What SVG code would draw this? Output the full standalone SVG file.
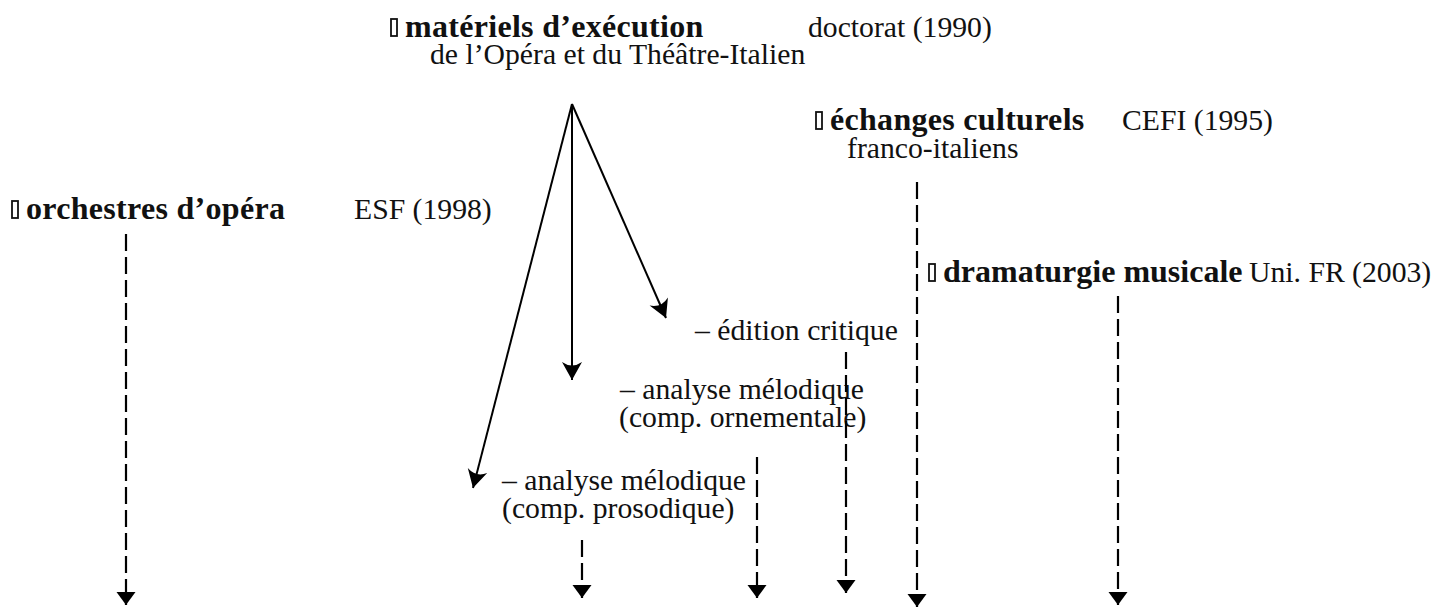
<svg xmlns="http://www.w3.org/2000/svg" width="1434" height="611" viewBox="0 0 1434 611">
<style>
  text { font-family: "Liberation Serif", "DejaVu Serif", serif; font-size: 29.7px; fill: #111; }
  .b { font-weight: bold; font-size: 32px; letter-spacing: 0.3px; }
  .box { fill: none; stroke: #111; stroke-width: 1.8; }
  .solid { stroke: #000; stroke-width: 2; fill: none; }
  .dash { stroke: #000; stroke-width: 2.2; fill: none; stroke-dasharray: 17 6; }
</style>
<defs>
  <marker id="open" markerUnits="userSpaceOnUse" markerWidth="24" markerHeight="24" viewBox="-20 -12 24 24" refX="0" refY="0" orient="auto">
    <path d="M0,0 L-18,-10 Q-11,0 -18,10 Z" fill="#000"/>
  </marker>
  <marker id="tri" markerUnits="userSpaceOnUse" markerWidth="22" markerHeight="22" viewBox="-15 -11 17 22" refX="0" refY="0" orient="auto">
    <path d="M0,0 L-13,-9.5 L-13,9.5 Z" fill="#000"/>
  </marker>
</defs>

<g id="node-materiels">
  <rect class="box" x="391" y="19" width="6" height="17"/>
  <text x="405" y="37"><tspan class="b">matériels d’exécution</tspan><tspan x="430" y="64">de l’Opéra et du Théâtre-Italien</tspan></text>
  <text x="808" y="37">doctorat (1990)</text>
</g>

<g id="node-echanges">
  <rect class="box" x="816" y="112" width="6" height="17"/>
  <text x="830" y="130"><tspan class="b">échanges culturels</tspan><tspan x="847" y="158">franco-italiens</tspan></text>
  <text x="1122" y="130">CEFI (1995)</text>
</g>

<g id="node-orchestres">
  <rect class="box" x="12" y="201" width="6" height="17"/>
  <text class="b" x="26" y="219">orchestres d’opéra</text>
  <text x="354" y="219">ESF (1998)</text>
</g>

<g id="node-dramaturgie">
  <rect class="box" x="929" y="264" width="6" height="17"/>
  <text class="b" x="943" y="282" style="letter-spacing:0">dramaturgie musicale</text>
  <text x="1249" y="282">Uni. FR (2003)</text>
</g>

<g id="node-edition">
  <text x="695" y="340">– édition critique</text>
</g>

<g id="node-ornementale">
  <text x="620" y="399">– analyse mélodique<tspan x="619" y="427">(comp. ornementale)</tspan></text>
</g>

<g id="node-prosodique">
  <text x="502" y="490">– analyse mélodique<tspan x="502" y="518">(comp. prosodique)</tspan></text>
</g>

<g id="connectors">
  <line class="solid" x1="572" y1="104" x2="473" y2="488" marker-end="url(#open)"/>
  <line class="solid" x1="572" y1="104" x2="572" y2="380" marker-end="url(#open)"/>
  <line class="solid" x1="572" y1="104" x2="666" y2="318" marker-end="url(#open)"/>

  <line class="dash" x1="126" y1="234" x2="126" y2="605" marker-end="url(#tri)"/>
  <line class="dash" x1="582" y1="540" x2="582" y2="598" marker-end="url(#tri)"/>
  <line class="dash" x1="757" y1="457" x2="757" y2="598" marker-end="url(#tri)"/>
  <line class="dash" x1="846" y1="352" x2="846" y2="593" marker-end="url(#tri)"/>
  <line class="dash" x1="917" y1="182" x2="917" y2="607" marker-end="url(#tri)"/>
  <line class="dash" x1="1118" y1="296" x2="1118" y2="605" marker-end="url(#tri)"/>
</g>
</svg>
